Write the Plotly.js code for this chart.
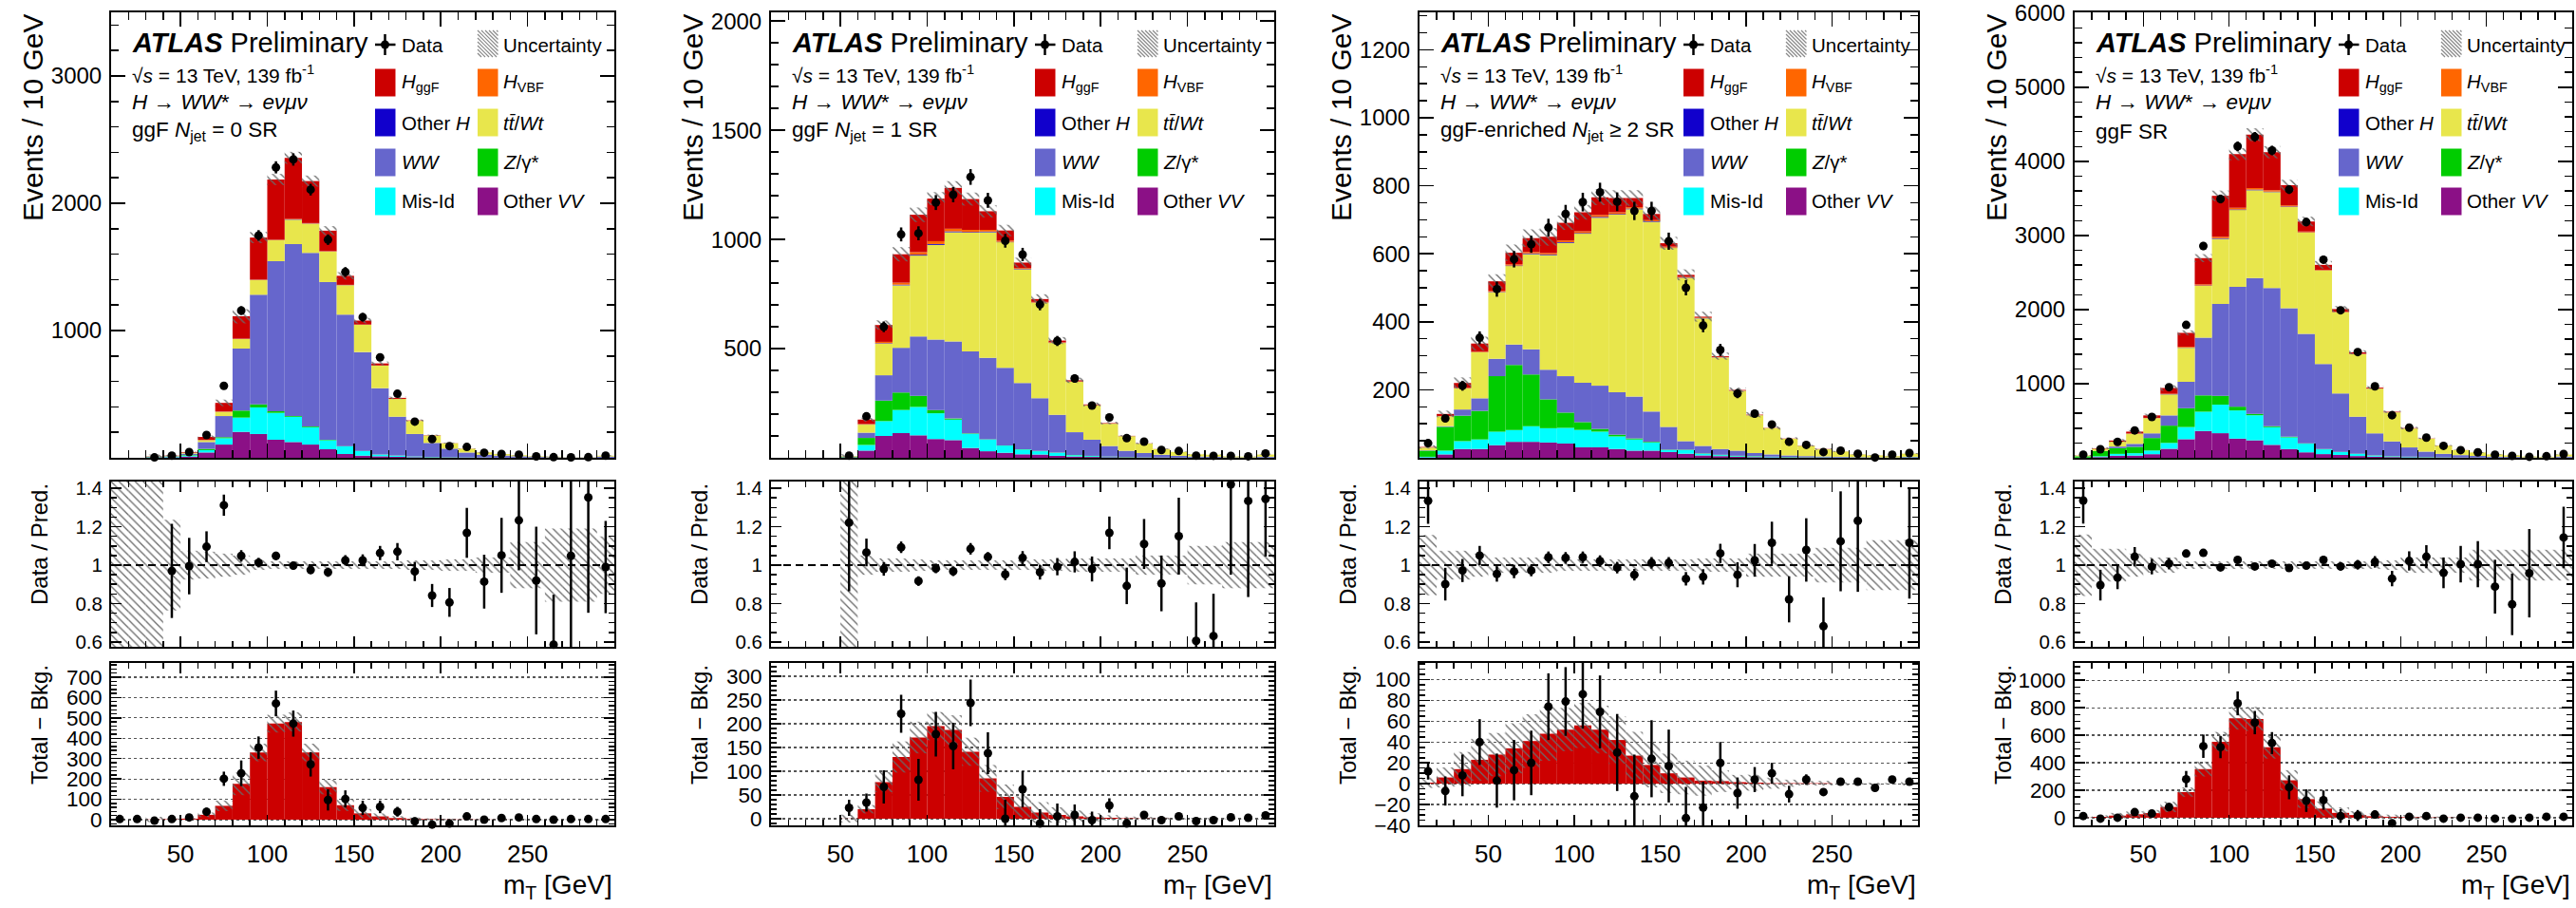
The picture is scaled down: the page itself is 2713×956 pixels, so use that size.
<!DOCTYPE html>
<html><head><meta charset="utf-8">
<script src="https://cdn.plot.ly/plotly-3.0.1.min.js"></script>
<style>html,body{margin:0;padding:0;background:#fff}#chart{width:2713px;height:956px}</style>
</head><body><div id="chart"></div>
<script>
// ---------------- DATA ----------------
const mT = [15,25,35,45,55,65,75,85,95,105,115,125,135,145,155,165,175,185,195,205,215,225,235,245,255,265,275,285,295];

// Panel 1: ggF Njet = 0 SR
const vv1  = [0,0,2,4,10,42,104,204,187,142,124,104,67,30,17,12,8,5,3,2,1,1,0.5,0.5,0.3,0.2,0.1,0.1,0.2];
const mis1 = [0,0,2,4,8,18,50,112,209,211,198,136,71,60,36,13,9,5,3,2,2,1,0.5,0.5,0.3,0.2,0.2,0.1,0.3];
const z1   = [0,0,2,2,4,10,8,55,24,13,6,6,4,2,2,1,1,1,1,1,0.5,0.5,0.2,0.2,0.2,0.1,0.1,0.1,0.2];
const ww1  = [0,0,4,3,11,54,166,487,861,1179,1351,1364,1239,1033,776,521,305,176,110,67,38,22,16,11,6,4.5,2,2,9];
const top1 = [0,0,2,2,7,15,34,75,115,164,192,229,239,231,214,177,139,103,58,42,30,18,12,8,5,4,1.5,1.5,7];
const oth1 = [0,0,0,0,0,0.3,0.5,1,1.5,2,2,1.7,1.5,1,0.7,0.5,0.3,0.2,0.1,0.1,0,0,0,0,0,0,0,0,0];
const vbf1 = [0,0,0,0,0,0.5,1,2,3,4,4,3.5,3,2,1.5,1,0.7,0.5,0.3,0.2,0.1,0.1,0,0,0,0,0,0,0];
const ggf1 = [0,0,1,2,5,24,68,176,330,472,480,330,160,71,31,16,8,3,2,1,1,0.5,0.3,0,0,0,0,0,0];
const data1 = [null,null,3,17,45,179,565,1157,1747,2282,2344,2107,1714,1460,1105,789,503,284,147,92,85,40,30,25,11,5,4,5,17];
const unc1 = [1,1,1,0.236,0.075,0.07,0.06,0.05,0.025,0.02,0.02,0.02,0.02,0.02,0.02,0.02,0.02,0.025,0.025,0.03,0.03,0.04,0.04,0.12,0.12,0.19,0.19,0.19,0.15];
const ratio1 = [null,null,null,0.97,0.995,1.096,1.312,1.048,1.013,1.048,0.997,0.975,0.963,1.025,1.025,1.063,1.07,0.967,0.842,0.806,1.168,0.914,1.051,1.233,0.92,0.586,1.048,1.352,0.99];
const rerr1 = [null,null,null,0.245,0.147,0.08,0.055,0.03,0.025,0.022,0.02,0.022,0.024,0.027,0.031,0.037,0.045,0.05,0.06,0.075,0.13,0.14,0.195,0.26,0.28,0.26,0.5,0.6,0.24];
const diff1 = [3,3,-5,3,11,39,201,228,354,571,472,272,97,102,58,63,39,-8,-24,-19,16,0,8,11,3,0,3,3,3];
const derr1 = [5,5,5,5,8,20,35,63,55,63,64,60,52,42,35,31,24,19,16,14,12,10,8,7,5,5,5,5,5];

// Panel 2: ggF Njet = 1 SR
const vv2  = [0,0,0,0,2,33,100,113,103,86,81,45,30,23,16,15,9,6,4,3,2,1,1,0.5,0.5,0.3,0.2,0.2,0.5];
const mis2 = [0,0,0,0,1,26,68,106,130,118,94,65,54,33,22,15,14,6,4,2,1,1,0.5,0.5,0.5,0.3,0.2,0.2,0.5];
const z2   = [0,0,0,0,2,32,94,80,51,15,5,2,1,1,1,1,1,1,1,1,1,0.5,0.5,0.2,0.2,0.2,0.2,0.2,0.3];
const ww2  = [0,0,0,0,1,24,116,205,272,322,353,375,373,355,303,242,173,104,74,48,28,19.5,12,7.8,4.8,4.2,1.9,1.4,3.7];
const top2 = [0,0,0,0,2,37,145,286,370,434,500,544,575,575,521,437,329,231,157,102,67,43,26,18,10,9,4,3.3,10];
const oth2 = [0,0,0,0,0,1,2,3,4,4,4,3,3,2,2,1,1,0.5,0.5,0.3,0.2,0.2,0.1,0,0,0,0,0,0];
const vbf2 = [0,0,0,0,0,2,6,9,12,13,12,10,8,6,4,3,2,1.5,1,0.7,0.3,0.3,0.2,0.1,0.1,0.1,0,0,0.1];
const ggf2 = [0,0,0,0,0.3,20,77,130,171,195,187,141,85,46,25,13,8,5,3,2,1,0.5,0.3,0,0,0,0,0,0];
const data2 = [null,null,null,null,10,190,600,1023,1028,1169,1205,1286,1179,994,931,702,535,363,239,185,90,74,36,31,10,9,9,7,20];
const unc2 = [null,null,null,null,1,0.05,0.035,0.035,0.03,0.025,0.025,0.025,0.025,0.025,0.025,0.03,0.03,0.035,0.035,0.035,0.035,0.05,0.05,0.05,0.1,0.1,0.12,0.12,0.12];
const ratio2 = [null,null,null,null,1.221,1.066,0.98,1.093,0.917,0.983,0.968,1.085,1.043,0.952,1.038,0.963,0.992,1.017,0.98,1.168,0.892,1.11,0.905,1.151,0.606,0.631,1.42,1.334,1.345];
const rerr2 = [null,null,null,null,0.357,0.072,0.035,0.03,0.025,0.025,0.025,0.03,0.025,0.03,0.035,0.038,0.045,0.055,0.065,0.085,0.095,0.13,0.145,0.2,0.2,0.22,0.47,0.5,0.3];
const diff2 = [null,null,null,null,23,34,67,221,82,178,153,244,138,0,62,-10,5,8,-3,28,-10,8,-3,5,-5,-3,3,2,7];
const derr2 = [null,null,null,null,17,19,35,40,44,47,49,49,44,40,38,30,27,22,18,15,10,8,8,6,4,4,4,4,4];

// Panel 3: ggF-enriched Njet >= 2 SR
const vv3  = [1,10,26,26,37,47,47,45,42,31,31,26,21,21,17,12,7,5,3,2,1.5,1,1,0.5,0.5,0.3,0.3,0.2,0.5];
const mis3 = [2,11,23,28,40,35,46,42,46,51,46,37,33,24,6,11,5,3,2,2,1.5,1,0.5,0.5,0.5,0.3,0.2,0.2,0.5];
const z3   = [18,70,75,84,163,191,152,85,45,23,8,5,3,2,1,1,1,1,1,1,0.5,0.5,0.5,0.5,0.2,0.2,0.2,0.2,0.5];
const ww3  = [1,2,18,37,51,60,74,87,107,116,127,125,123,89,67,25,22,17,15,9,6.5,4.5,3,2.5,1.8,1.2,0.8,0.6,1.5];
const top3 = [8,29,62,135,196,231,280,337,392,438,494,522,551,558,526,480,375,269,176,111,77,49,30,21,15.5,8,5.5,3.8,9];
const oth3 = [0.3,0.3,0.6,1,1,1.5,2,2,2,2,2.5,2,2,1.5,1,1,0.6,0.5,0.3,0.3,0.1,0.1,0.1,0.1,0.1,0.1,0.1,0.1,0.1];
const vbf3 = [0.7,0.7,1.4,2,3,3.5,4,4,5,5,5.5,5,4,3.5,3,2,1.4,1,0.7,0.7,0.4,0.2,0.2,0.2,0.2,0.2,0.2,0.2,0.2];
const ggf3 = [1,6,14,23,28,34,41,48,52,56,52,42,27,18,10,6,3,2.5,1.5,1,0.5,0.5,0.5,0.5,0,0,0,0,0];
const data3 = [43,116,212,353,496,584,628,677,717,752,781,753,726,726,637,500,389,317,189,130,98,47,38,17,21,12,1,9,14];
const unc3 = [0.157,0.075,0.075,0.06,0.04,0.04,0.04,0.04,0.03,0.03,0.03,0.03,0.03,0.03,0.03,0.03,0.035,0.035,0.035,0.06,0.06,0.06,0.06,0.09,0.09,0.09,0.13,0.13,0.13];
const ratio3 = [1.335,0.901,0.972,1.05,0.954,0.967,0.972,1.041,1.038,1.041,1.021,0.987,0.95,1.012,1.012,0.929,0.939,1.061,0.95,1.025,1.116,0.822,1.079,0.682,1.124,1.231,null,null,1.116];
const rerr3 = [0.12,0.085,0.06,0.05,0.04,0.035,0.03,0.03,0.03,0.03,0.03,0.03,0.03,0.03,0.03,0.035,0.04,0.05,0.065,0.085,0.11,0.12,0.165,0.15,0.26,0.37,null,null,0.29];
const diff3 = [12,-7,8,40,3,13,20,74,79,86,69,30,-12,24,17,-33,-23,20,-9,4,10,-10,4,-8,2,2,-4,4,2];
const derr3 = [8,14,20,22,26,29,31,32,33,33,35,37,40,37,35,30,25,20,15,12,10,8,5,3,3,3,3,3,3];

// Panel 4: ggF SR
const vv4  = [1,10,28,30,49,122,251,362,332,259,236,175,118,74,50,39,24,16,10,7,4.5,3,2.5,1.5,1.3,0.8,0.6,0.5,1.2];
const mis4 = [2,11,25,32,49,79,164,260,385,380,338,238,158,117,64,39,28,14,9,6,4.5,3,1.5,1.5,1.3,0.8,0.6,0.5,1.3];
const z4   = [18,70,77,86,169,233,254,220,120,51,19,13,8,5,4,3,3,3,3,3,2,1.5,1.2,0.9,0.6,0.5,0.5,0.5,1];
const ww4  = [1,2,22,40,63,138,356,779,1240,1617,1831,1864,1735,1477,1146,788,500,297,199,124,72.5,46,31,21.3,12.6,9.9,4.7,4,14.2];
const top4 = [8,29,64,137,205,283,459,698,877,1036,1186,1295,1365,1364,1261,1094,843,603,391,255,174,110,68,47,30.5,21,11,8.6,26];
const oth4 = [0.3,0.3,0.6,1,1,2.8,4.5,6,7.5,8,8.5,6.7,6.5,4.5,3.7,2.5,1.9,1.2,0.9,0.7,0.3,0.3,0.2,0.1,0.1,0.1,0.1,0.1,0.1];
const vbf4 = [0.7,0.7,1.4,2,3,6,11,15,20,22,21.5,18.5,15,11.5,8.5,6,4.1,3,2,1.6,0.8,0.6,0.4,0.3,0.3,0.3,0.2,0.2,0.3];
const ggf4 = [1,6,15,25,33,78,186,354,553,723,719,513,272,135,66,35,19,10.5,6.5,4,2.5,1.5,1.1,0.5,0,0,0,0,0];
const data4 = [43,116,215,370,551,953,1793,2857,3492,4203,4330,4146,3619,3180,2673,1991,1427,964,575,407,273,161,104,73,42,26,14,21,51];
const unc4 = [0.16,0.085,0.085,0.06,0.04,0.04,0.02,0.02,0.02,0.02,0.02,0.02,0.02,0.02,0.02,0.02,0.02,0.02,0.025,0.04,0.04,0.04,0.04,0.08,0.08,0.08,0.08,0.08,0.08];
const ratio4 = [1.336,0.896,0.935,1.044,0.992,1.008,1.06,1.064,0.988,1.027,0.993,1.008,0.985,0.997,1.027,0.993,1.002,1.017,0.93,1.022,1.044,0.96,1.005,1.005,0.888,0.796,0.958,null,1.144];
const rerr4 = [0.12,0.08,0.06,0.05,0.04,0.03,0.02,0.015,0.015,0.015,0.015,0.015,0.015,0.017,0.018,0.02,0.025,0.03,0.04,0.05,0.06,0.08,0.095,0.12,0.14,0.16,0.23,null,0.16];
const diff4 = [12,-7,0,40,30,77,280,520,513,832,692,543,221,124,128,12,16,23,-40,7,12,-7,0,0,-7,-7,0,7,7];
const derr4 = [8,14,20,22,25,30,60,85,80,87,85,80,87,82,70,50,40,30,25,20,15,12,10,8,6,5,5,5,5];

const regionLabels = ['ggF <i>N</i><sub>jet</sub> = 0 SR', 'ggF <i>N</i><sub>jet</sub> = 1 SR',
  'ggF-enriched <i>N</i><sub>jet</sub> ≥ 2 SR', 'ggF SR'];
const xTicks = [50,100,150,200,250];

// ---------------- STYLE / LAYOUT ----------------
const FONT = 'Liberation Sans, Arial, Helvetica, sans-serif';
const W = 2713, H = 956;
const px = v => v / W, py = v => 1 - v / H;
const COLS = [{L:117,R:647},{L:812,R:1342},{L:1495,R:2020},{L:2185,R:2709}];
const ROWS = [{T:13,B:482},{T:507,B:681},{T:698,B:869}];
const axCfg = [
  {main:{range:[0,3500], tv:[1000,2000,3000], minor:200}, low:{range:[-28,770], tv:[0,100,200,300,400,500,600,700], minor:20}},
  {main:{range:[0,2040], tv:[500,1000,1500,2000], minor:100}, low:{range:[-14,328], tv:[0,50,100,150,200,250,300], minor:10}},
  {main:{range:[0,1310], tv:[200,400,600,800,1000,1200], minor:50}, low:{range:[-40,116], tv:[-40,-20,0,20,40,60,80,100], minor:5}},
  {main:{range:[0,6010], tv:[1000,2000,3000,4000,5000,6000], minor:200}, low:{range:[-56,1126], tv:[0,200,400,600,800,1000], minor:50}}
];
const COL = {vv:'#8B1086', mis:'#00FFFF', z:'#00CC00', ww:'#6666CC', top:'#E8E64C', oth:'#1100CC', vbf:'#FF6600', ggf:'#CC0000'};
const ORDER = ['vv','mis','z','ww','top','oth','vbf','ggf'];

const panels = [
  {vv:vv1,mis:mis1,z:z1,ww:ww1,top:top1,oth:oth1,vbf:vbf1,ggf:ggf1,data:data1,unc:unc1,ratio:ratio1,rerr:rerr1,diff:diff1,derr:derr1},
  {vv:vv2,mis:mis2,z:z2,ww:ww2,top:top2,oth:oth2,vbf:vbf2,ggf:ggf2,data:data2,unc:unc2,ratio:ratio2,rerr:rerr2,diff:diff2,derr:derr2},
  {vv:vv3,mis:mis3,z:z3,ww:ww3,top:top3,oth:oth3,vbf:vbf3,ggf:ggf3,data:data3,unc:unc3,ratio:ratio3,rerr:rerr3,diff:diff3,derr:derr3},
  {vv:vv4,mis:mis4,z:z4,ww:ww4,top:top4,oth:oth4,vbf:vbf4,ggf:ggf4,data:data4,unc:unc4,ratio:ratio4,rerr:rerr4,diff:diff4,derr:derr4}
];

const hatch = {color:'rgba(0,0,0,0)', line:{width:0},
  pattern:{shape:'\\', fgcolor:'#6a6a6a', bgcolor:'rgba(0,0,0,0)', size:6, solidity:0.22}};
const traces = [];
const layout = {
  width:W, height:H, margin:{l:0,r:0,t:0,b:0}, paper_bgcolor:'#fff', plot_bgcolor:'rgba(0,0,0,0)',
  showlegend:false, barmode:'overlay', hovermode:false, font:{family:FONT, color:'#000'},
  shapes:[], annotations:[]
};
const axName = n => n === 1 ? '' : String(n);

panels.forEach((p, c) => {
  const n0 = c*3 + 1;
  const xa = r => 'x' + axName(n0 + r), ya = r => 'y' + axName(n0 + r);
  const {L, R} = COLS[c];
  // axes
  for (let r = 0; r < 3; r++) {
    const n = n0 + r;
    const big = r === 0;
    layout['xaxis' + axName(n)] = {
      domain:[px(L), px(R)], range:[10,300], anchor:ya(r), showline:true, mirror:'ticks', linewidth:2, linecolor:'#000',
      ticks:'inside', tickmode:'array', tickvals:xTicks, ticklen: big ? 15 : 11, tickwidth:1.5, tickcolor:'#000',
      showticklabels: r === 2, tickfont:{size:26, family:FONT}, ticklabelstandoff:6,
      minor:{tickmode:'linear', tick0:10, dtick:10, ticks:'inside', ticklen: big ? 8 : 6, tickwidth:1.5, tickcolor:'#000', showgrid:false},
      showgrid:false, zeroline:false, fixedrange:true
    };
    let ycfg;
    if (r === 0) ycfg = {range:axCfg[c].main.range, tickvals:axCfg[c].main.tv, minor:axCfg[c].main.minor, size:24, len:15, mlen:8, grid:false};
    else if (r === 1) ycfg = {range:[0.575,1.435], tickvals:[0.6,0.8,1,1.2,1.4], ticktext:['0.6','0.8','1','1.2','1.4'], minor:0.05, size:20.5, len:11, mlen:6, grid:false};
    else ycfg = {range:axCfg[c].low.range, tickvals:axCfg[c].low.tv, minor:axCfg[c].low.minor, size:22.5, len:11, mlen:6, grid:true};
    const yax = {
      domain:[py(ROWS[r].B), py(ROWS[r].T)], range:ycfg.range, anchor:xa(r), showline:true, mirror:'ticks', linewidth:2, linecolor:'#000',
      ticks:'inside', tickmode:'array', tickvals:ycfg.tickvals, ticklen:ycfg.len, tickwidth:1.5, tickcolor:'#000',
      tickfont:{size:ycfg.size, family:FONT}, ticklabelstandoff:3,
      minor:{tickmode:'linear', tick0:0, dtick:ycfg.minor, ticks:'inside', ticklen:ycfg.mlen, tickwidth:1.5, tickcolor:'#000', showgrid:false},
      showgrid:ycfg.grid, griddash:'dot', gridcolor:'#555', gridwidth:1.2, zeroline:false, fixedrange:true
    };
    if (ycfg.ticktext) yax.ticktext = ycfg.ticktext;
    layout['yaxis' + axName(n)] = yax;
  }

  // ---- main stacked histogram ----
  const cum = mT.map(() => 0);
  ORDER.forEach(k => {
    traces.push({type:'bar', x:mT, y:p[k], base:cum.slice(), width:10, marker:{color:COL[k], line:{width:0}},
      xaxis:xa(0), yaxis:ya(0), hoverinfo:'skip'});
    p[k].forEach((v, i) => { cum[i] += v; });
  });
  const total = cum;
  const bandY = p.unc.map((u, i) => u == null ? null : 2*u*total[i]);
  const bandB = p.unc.map((u, i) => u == null ? null : (1-u)*total[i]);
  traces.push({type:'bar', x:mT, y:bandY, base:bandB, width:10, marker:hatch, xaxis:xa(0), yaxis:ya(0), hoverinfo:'skip'});
  traces.push({type:'scatter', mode:'markers', x:mT, y:p.data, marker:{size:9, color:'#000'}, cliponaxis:false,
    error_y:{type:'sqrt', thickness:2.5, width:0, color:'#000'}, xaxis:xa(0), yaxis:ya(0), hoverinfo:'skip'});

  // ---- ratio ----
  traces.push({type:'bar', x:mT, y:p.unc.map(u => u == null ? null : 2*u), base:p.unc.map(u => u == null ? null : 1-u),
    width:10, marker:hatch, xaxis:xa(1), yaxis:ya(1), hoverinfo:'skip'});
  traces.push({type:'scatter', mode:'markers', x:mT, y:p.ratio, marker:{size:2, color:'rgba(0,0,0,0)'},
    error_y:{type:'data', array:p.rerr, thickness:2.5, width:0, color:'#000'}, xaxis:xa(1), yaxis:ya(1), hoverinfo:'skip'});
  traces.push({type:'scatter', mode:'markers', x:mT, y:p.ratio, marker:{size:9, color:'#000'}, cliponaxis:false,
    xaxis:xa(1), yaxis:ya(1), hoverinfo:'skip'});
  layout.shapes.push({type:'line', xref:xa(1), yref:ya(1), x0:10, x1:300, y0:1, y1:1, layer:'above',
    line:{color:'#000', width:2, dash:'8px,5px'}});

  // ---- total - bkg ----
  traces.push({type:'bar', x:mT, y:p.ggf, width:10, marker:{color:COL.ggf, line:{width:0}}, xaxis:xa(2), yaxis:ya(2), hoverinfo:'skip'});
  traces.push({type:'bar', x:mT, y:p.unc.map((u, i) => u == null ? null : 2*u*total[i]),
    base:p.unc.map((u, i) => u == null ? null : p.ggf[i] - u*total[i]), width:10, marker:hatch, xaxis:xa(2), yaxis:ya(2), hoverinfo:'skip'});
  traces.push({type:'scatter', mode:'markers', x:mT, y:p.diff, marker:{size:2, color:'rgba(0,0,0,0)'},
    error_y:{type:'data', array:p.derr, thickness:2.5, width:0, color:'#000'}, xaxis:xa(2), yaxis:ya(2), hoverinfo:'skip'});
  traces.push({type:'scatter', mode:'markers', x:mT, y:p.diff, marker:{size:9, color:'#000'}, cliponaxis:false,
    xaxis:xa(2), yaxis:ya(2), hoverinfo:'skip'});

  // ---- texts ----
  const T = ROWS[0].T;
  const ann = (text, x, y, size, opts) => layout.annotations.push(Object.assign({
    text, x:px(x), y:py(y), xref:'paper', yref:'paper', xanchor:'left', yanchor:'middle', showarrow:false,
    font:{size, family:FONT, color:'#000'}}, opts || {}));
  ann('<b><i>ATLAS</i></b> Preliminary', L+20, T+32, 29);
  ann('√<i>s</i> = 13 TeV, 139 fb<sup>-1</sup>', L+20, T+65, 21);
  ann('<i>H</i> → <i>WW</i>* → <i>eνμν</i>', L+20, T+94, 22.5);
  ann(regionLabels[c], L+20, T+125, 22.5);
  // axis titles
  ann('Events / 10 GeV', L-82, T, 30, {xanchor:'center', yanchor:'top', textangle:-90});
  ann('Data / Pred.', L-76, ROWS[1].T, 24, {xanchor:'center', yanchor:'top', textangle:-90});
  ann('Total − Bkg.', L-76, ROWS[2].T, 24, {xanchor:'center', yanchor:'top', textangle:-90});
  ann('m<sub>T</sub> [GeV]', R, 953, 28, {xanchor:'right', yanchor:'bottom'});

  // ---- legend ----
  const rowsY = [34, 74, 116, 158, 199].map(v => T + v);
  const xA = L + 278, xB = L + 386, bw = 21.5, bh = 29;
  const rect = (x, yc, color) => layout.shapes.push({type:'rect', xref:'paper', yref:'paper',
    x0:px(x), x1:px(x+bw), y0:py(yc+bh/2), y1:py(yc-bh/2), fillcolor:color, line:{width:0}, layer:'above'});
  const line = (x0, y0, x1, y1, color, w) => layout.shapes.push({type:'line', xref:'paper', yref:'paper',
    x0:px(x0), x1:px(x1), y0:py(y0), y1:py(y1), line:{color, width:w}, layer:'above'});
  // data symbol
  const dcx = L + 288.5, dcy = rowsY[0];
  line(xA, dcy, xA + bw, dcy, '#000', 2.5);
  line(dcx, dcy - 11, dcx, dcy + 11, '#000', 2.5);
  layout.shapes.push({type:'circle', xref:'paper', yref:'paper', x0:px(dcx-4.5), x1:px(dcx+4.5), y0:py(dcy+4.5), y1:py(dcy-4.5),
    fillcolor:'#000', line:{width:0}, layer:'above'});
  ann('Data', L+304, rowsY[0], 20.5);
  // uncertainty hatched box
  {
    const x0 = xB, x1 = xB + bw, y0 = T + 19, y1 = T + 47, w = x1 - x0, h = y1 - y0, s = 4;
    for (let cc = -h + s; cc < w; cc += s) {
      const sx = cc >= 0 ? x0 + cc : x0, sy = cc >= 0 ? y0 : y0 - cc;
      const ex = cc + h <= w ? x0 + cc + h : x1, ey = cc + h <= w ? y1 : y0 + (w - cc);
      line(sx, sy, ex, ey, '#8a8a8a', 1.2);
    }
  }
  ann('Uncertainty', L+411, rowsY[0], 20.5);
  const legRows = [
    [['ggf','<i>H</i><sub>ggF</sub>'], ['vbf','<i>H</i><sub>VBF</sub>']],
    [['oth','Other <i>H</i>'], ['top','<i>tt̄</i>/<i>Wt</i>']],
    [['ww','<i>WW</i>'], ['z','<i>Z</i>/γ*']],
    [['mis','Mis-Id'], ['vv','Other <i>VV</i>']]
  ];
  legRows.forEach((row, i) => {
    const yc = rowsY[i + 1];
    rect(xA, yc, COL[row[0][0]]); ann(row[0][1], L+304, yc, 20.5);
    rect(xB, yc, COL[row[1][0]]); ann(row[1][1], L+411, yc, 20.5);
  });
});

Plotly.newPlot('chart', traces, layout, {staticPlot:true, displayModeBar:false});
</script>
</body></html>
